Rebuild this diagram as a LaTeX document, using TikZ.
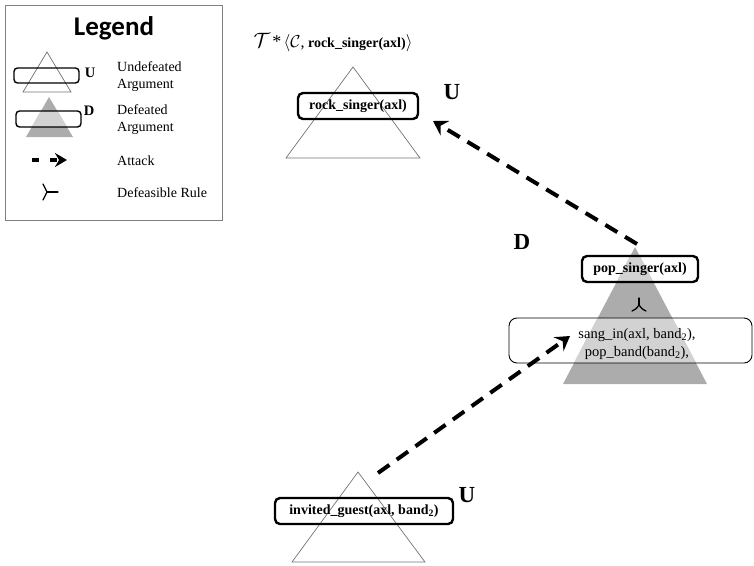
\documentclass[tikz,border=0pt]{standalone}
\usepackage{fontspec}
\setmainfont{Liberation Serif}
\newfontfamily\legendfont{Carlito}
\usetikzlibrary{arrows.meta}

\definecolor{edgegray}{RGB}{115,115,115}
\definecolor{boxgray}{RGB}{128,128,128}
\definecolor{darkfill}{RGB}{172,172,172}
\definecolor{lightfill}{RGB}{210,210,210}

\tikzset{
  argtri/.style={draw=edgegray, line width=0.7pt},
  claim/.style={draw=black, line width=2.4pt, rounded corners=5pt, inner sep=0pt,
    minimum height=26pt, font=\fontsize{14}{16}\selectfont\bfseries},
  smallclaim/.style={draw=black, line width=1.4pt, rounded corners=3.5pt},
  body/.style={draw=black, line width=0.9pt, rounded corners=8pt},
  status/.style={font=\fontsize{23}{25}\selectfont\bfseries, inner sep=0pt},
  smallstatus/.style={font=\fontsize{14.5}{16}\selectfont\bfseries, inner sep=0pt},
  legtext/.style={anchor=west, align=left, inner sep=0pt, font=\fontsize{14}{17}\selectfont},
  attack/.style={line width=4pt, dash pattern=on 14pt off 9pt,
    -{Stealth[length=14pt,width=17pt,inset=5pt]}},
  defrule/.style={line width=1.3pt, line cap=round},
  lightpatch/.style={fill=lightfill, draw=none},
}

\begin{document}
\begin{tikzpicture}[x=1pt,y=-1pt]
\useasboundingbox (0,0) rectangle (754,565);

% ---------------- legend ----------------
\draw[boxgray, line width=0.9pt] (5,5) rectangle (222,220);
\node[font=\legendfont\fontsize{27}{30}\selectfont\bfseries] (legtitle) at (114,28) {Legend};

% undefeated argument
\draw[argtri] (47,52) -- (71,92) -- (23,92) -- cycle;
\draw[smallclaim] (14,68) rectangle (79,83);
\node[smallstatus] (legU) at (90,73) {U};
\node[legtext] (legUtext) at (117,77) {Undefeated\\Argument};

% defeated argument: dark triangle, lighter where the claim box covers it
\path[fill=darkfill] (49,97) -- (73,137) -- (26,137) -- cycle;
\path[lightpatch] (40.9,111) -- (57.4,111) -- (67,127) -- (31.8,127) -- cycle;
\draw[smallclaim] (16,111) rectangle (81,127);
\node[smallstatus] (legD) at (89,111) {D};
\node[legtext] (legDtext) at (117,120) {Defeated\\Argument};

% attack
\coordinate (legAfrom) at (32,160);
\coordinate (legAto) at (67,160);
\draw[line width=4pt, dash pattern=on 7pt off 11pt,
  -{Stealth[length=12pt,width=14pt,inset=4pt]}] (legAfrom) -- (legAto);
\node[legtext] (legAtext) at (117,161) {Attack};

% defeasible rule
\coordinate (legR) at (47,192);
\draw[defrule] (43,184) .. controls (45,188) .. (legR) .. controls (45,196) .. (43,200);
\draw[defrule] (legR) -- (58,192);
\node[legtext] (legRtext) at (117,193) {Defeasible Rule};

% ---------------- dialectical tree ----------------
\node[font=\fontsize{14}{16}\selectfont, inner sep=0pt] (title) at (333,43)
  {{\fontsize{20}{22}\selectfont$\mathcal{T}$}\,{\fontsize{18}{20}\selectfont*}\,%
   {\fontsize{16}{18}\selectfont$\langle\mathcal{C}$,} \textbf{rock\_singer(axl)}%
   {\fontsize{16}{18}\selectfont$\rangle$}};

% root argument (undefeated)
\coordinate (rockTop) at (353,67);
\draw[argtri] (rockTop) -- (420,158) -- (286,158) -- cycle;
\node[claim, minimum width=120pt] (rock) at (358,106) {rock\_singer(axl)};
\node[status] (rockU) at (452,92) {U};

% defeater (defeated): dark triangle, lighter where the boxes cover it
\coordinate (popTop) at (635,247);
\path[fill=darkfill] (popTop) -- (707,384) -- (563,384) -- cycle;
\path[lightpatch] (630.3,256) -- (639.7,256) -- (653.4,282) -- (616.6,282) -- cycle;
\path[lightpatch] (597.7,318) -- (672.3,318) -- (696.0,363) -- (574.0,363) -- cycle;
\node[claim, minimum width=116pt] (pop) at (640,269) {pop\_singer(axl)};
\node[status] (popD) at (522,242) {D};
\coordinate (popRule) at (639,305);
\draw[defrule] (639,298) -- (popRule);
\draw[defrule] (632,311) .. controls (636,309) .. (popRule) .. controls (642,309) .. (646,311);
\draw[body] (509,318) rectangle (752,363);
\node[align=center, inner sep=0pt, font=\fontsize{14.5}{18}\selectfont] (popbody) at (637,344)
  {sang\_in(axl, band\textsubscript{2}),\\pop\_band(band\textsubscript{2}),};

% defeater of the defeater (undefeated)
\coordinate (guestTop) at (358,472);
\draw[argtri] (guestTop) -- (425,562) -- (292,562) -- cycle;
\node[claim, minimum width=178pt] (guest) at (364,511) {invited\_guest(axl, band\textsubscript{2})};
\node[status] (guestU) at (467,495) {U};

% attacks
\coordinate (atkA) at (637,244);
\coordinate (atkAend) at (433,121);
\draw[attack] (atkA) -- (atkAend);
\coordinate (atkB) at (378,473);
\coordinate (atkBend) at (570,336);
\draw[attack] (atkB) -- (atkBend);
\end{tikzpicture}
\end{document}
